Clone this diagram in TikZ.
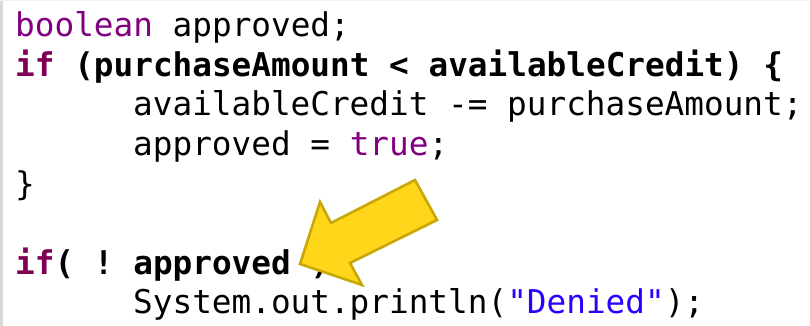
\documentclass[tikz,border=0pt]{standalone}
\usepackage{fontspec}
\setmonofont{DejaVu Sans Mono}
\definecolor{keyword}{HTML}{7F0055}
\definecolor{typename}{HTML}{800080}
\definecolor{literal}{HTML}{2A00FF}
\definecolor{arrowfill}{HTML}{FFD61A}
\definecolor{arrowline}{HTML}{C8A806}
\tikzset{
  code/.style={anchor=base west, inner sep=0pt, font=\ttfamily\fontsize{32.7}{39.5}\selectfont},
  pointer/.style={fill=arrowfill, draw=arrowline, line width=2.6pt, line join=miter}
}
\begin{document}
\begin{tikzpicture}[x=1pt,y=-1pt]
            \useasboundingbox (0,0) rectangle (810,326);
            \fill[white] (0,0) rectangle (810,326);
            \draw[black!15, line width=3pt] (1.5,326) -- (1.5,0);
            \draw[black!6, line width=1pt] (0,0.5) -- (810,0.5);
            \node[code] (l1) at (15,37) {\textcolor{typename}{boolean} approved;};
            \node[code] (l2) at (15,76.5) {\bfseries\textcolor{keyword}{if} (purchaseAmount < availableCredit) \{};
            \node[code] (l3) at (133,116) {availableCredit -= purchaseAmount;};
            \node[code] (l4) at (133,155.5) {approved = \textcolor{typename}{true};};
            \node[code] (l5) at (15,195) {\}};
            \node[code] (l7) at (15,274) {\bfseries\textcolor{keyword}{if}( ! approved )};
            \node[code] (l8) at (133,313.5) {System.out.println(\textcolor{literal}{"Denied"});};
            \coordinate (tip) at (300,264);
            \draw[pointer] (tip) -- (320,202) -- (331,223) -- (415,180)
              -- (437,220) -- (350,263) -- (362,285) -- cycle;
\end{tikzpicture}
\end{document}
